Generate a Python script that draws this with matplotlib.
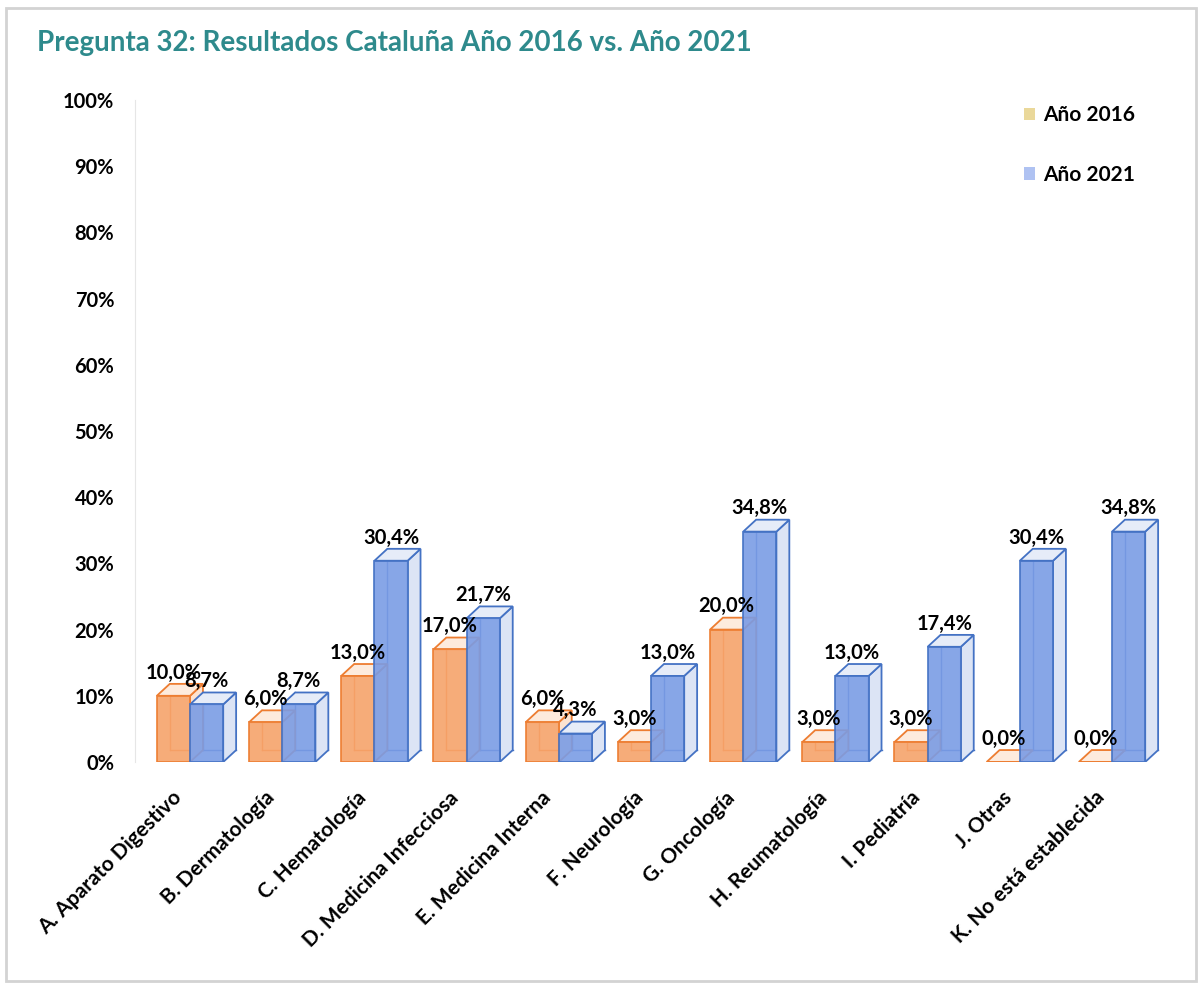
import matplotlib.pyplot as plt
from matplotlib.patches import Polygon, Patch, Rectangle
from matplotlib.transforms import ScaledTranslation

# data
categorias = ["A. Aparato Digestivo", "B. Dermatología", "C. Hematología",
              "D. Medicina Infecciosa", "E. Medicina Interna", "F. Neurología",
              "G. Oncología", "H. Reumatología", "I. Pediatría", "J. Otras",
              "K. No está establecida"]
anio_2016 = [10.0, 6.0, 13.0, 17.0, 6.0, 3.0, 20.0, 3.0, 3.0, 0.0, 0.0]
anio_2021 = [8.7, 8.7, 30.4, 21.7, 4.3, 13.0, 34.8, 13.0, 17.4, 30.4, 34.8]
series = ["Año 2016", "Año 2021"]
yticks = [0, 10, 20, 30, 40, 50, 60, 70, 80, 90, 100]

plt.rcParams['font.family'] = ['Lato', 'DejaVu Sans']

fig = plt.figure(figsize=(12.02, 9.85), dpi=100)
ax = fig.add_axes([0.1123, 0.2264, 0.865, 0.6721])
ax.set_xlim(-0.597, 10.68)
ax.set_ylim(0, 100)

w = 0.36      # bar width
dx = 0.14     # depth offset (x)
dy = 1.8      # depth offset (y)


def bar3d(x0, h, front, side, top, edge):
    x1 = x0 + w
    # back edges seen through
    ax.plot([x0 + dx, x0 + dx], [dy, h + dy], color=edge, lw=1.0, zorder=2)
    ax.plot([x0 + dx, x1 + dx], [dy, dy], color=edge, lw=1.0, zorder=2)
    ax.add_patch(Polygon([(x1, 0), (x1 + dx, dy), (x1 + dx, h + dy), (x1, h)],
                         closed=True, facecolor=side, edgecolor=edge, lw=1.3, zorder=3))
    ax.add_patch(Polygon([(x0, h), (x1, h), (x1 + dx, h + dy), (x0 + dx, h + dy)],
                         closed=True, facecolor=top, edgecolor=edge, lw=1.3, zorder=3))
    ax.add_patch(Rectangle((x0, 0), w, h, facecolor=front, edgecolor=edge,
                           lw=1.3, alpha=0.9, zorder=4))
    ax.text(x0 + w / 2, h + dy + 0.2, f"{h:.1f}%".replace(".", ","),
            ha='center', va='bottom', fontsize=14.5, fontweight='bold', zorder=6)


for i in range(len(categorias)):
    bar3d(i - w, anio_2016[i], '#F6A36B', '#FCE3D0', '#FDEBDD', '#ED7D31')
    bar3d(i, anio_2021[i], '#7A9CE5', '#DCE4F5', '#E6ECF8', '#4472C4')

ax.set_yticks(yticks)
ax.set_yticklabels([f"{t}%" for t in yticks], fontsize=14.5, fontweight='bold')
ax.tick_params(axis='y', length=0, pad=15)
ax.set_xticks(range(len(categorias)))
ax.set_xticklabels(categorias, rotation=45, ha='right', rotation_mode='anchor',
                   fontsize=15, fontweight='bold')
ax.tick_params(axis='x', length=0, pad=14)
shift = ScaledTranslation(-0.18, -0.06, fig.dpi_scale_trans)
for lab in ax.get_xticklabels():
    lab.set_transform(lab.get_transform() + shift)
for s in ax.spines.values():
    s.set_visible(False)
ax.spines['left'].set_visible(True)
ax.spines['left'].set_color('#E6E6E6')

handles = [Patch(facecolor='#EAD89A', edgecolor='none'),
           Patch(facecolor='#AFC2F2', edgecolor='none')]
fig.legend(handles, series, loc='upper left', bbox_to_anchor=(0.836, 0.912),
           frameon=False, prop={'weight': 'bold', 'size': 15},
           handlelength=0.55, handleheight=0.55, handletextpad=0.4,
           labelspacing=1.9)

fig.text(0.031, 0.956, "Pregunta 32: Resultados Cataluña Año 2016 vs. Año 2021",
         fontsize=20, fontweight='bold', color='#2E8A8C', va='center')

fig.patches.append(Rectangle((0.005, 0.004), 0.99, 0.988, transform=fig.transFigure,
                             fill=False, edgecolor='#D3D3D3', lw=2))

fig.savefig("out.png", dpi=100)
